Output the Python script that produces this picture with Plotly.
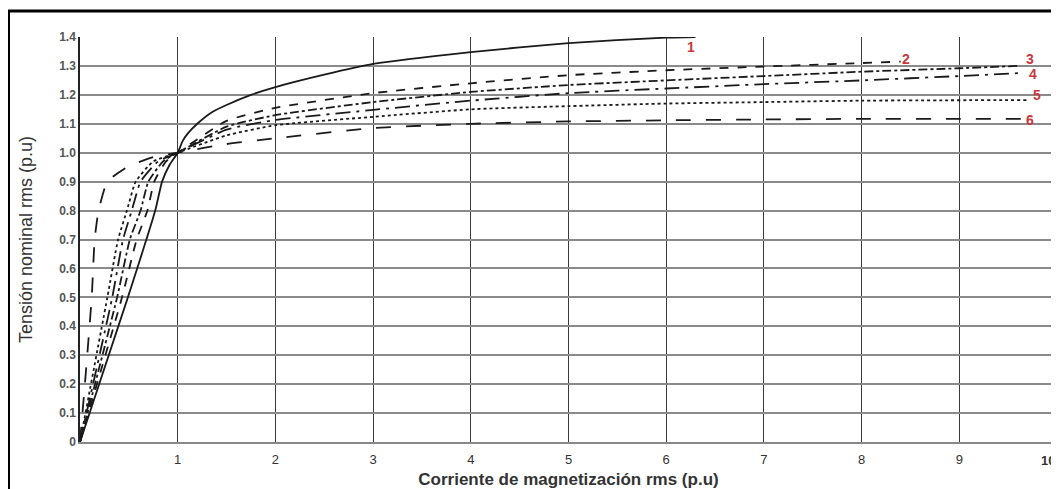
import plotly.graph_objects as go

# Curve data (magnetization current p.u. vs nominal voltage p.u.)
x1 = [0, 0.49, 0.77, 0.84, 0.92, 1.0, 1.05, 1.1, 1.2, 1.35, 1.5, 1.75, 2, 2.5, 3, 4, 5, 6, 6.3]
y1 = [0, 0.5, 0.8, 0.9, 0.96, 1.0, 1.04, 1.065, 1.1, 1.14, 1.165, 1.2, 1.227, 1.27, 1.307, 1.348, 1.379, 1.398, 1.40]

x2 = [0, 0.43, 0.58, 0.69, 0.76, 0.88, 1.0, 1.5, 2, 3, 4, 5, 6, 7, 8, 8.4]
y2 = [0, 0.5, 0.7, 0.8, 0.9, 0.97, 1.0, 1.11, 1.155, 1.206, 1.24, 1.268, 1.285, 1.298, 1.31, 1.315]

x3 = [0, 0.38, 0.51, 0.62, 0.7, 0.85, 1.0, 1.5, 2, 3, 4, 5, 6, 7, 8, 9, 9.6]
y3 = [0, 0.5, 0.7, 0.8, 0.9, 0.97, 1.0, 1.09, 1.13, 1.175, 1.21, 1.234, 1.25, 1.265, 1.28, 1.292, 1.30]

x4 = [0, 0.33, 0.44, 0.53, 0.62, 0.8, 1.0, 1.5, 2, 3, 4, 5, 6, 7, 8, 9, 9.6]
y4 = [0, 0.5, 0.7, 0.8, 0.9, 0.97, 1.0, 1.08, 1.113, 1.148, 1.18, 1.206, 1.222, 1.237, 1.25, 1.265, 1.275]

x5 = [0, 0.28, 0.39, 0.48, 0.57, 0.75, 1.0, 1.5, 2, 3, 4, 5, 6, 7, 8, 9.7]
y5 = [0, 0.5, 0.7, 0.8, 0.9, 0.97, 1.0, 1.06, 1.095, 1.124, 1.15, 1.161, 1.17, 1.175, 1.18, 1.182]

x6 = [0, 0.05, 0.12, 0.15, 0.19, 0.28, 0.48, 0.75, 1.0, 1.5, 2, 3, 4, 5, 6, 7, 8, 9, 9.7]
y6 = [0, 0.2, 0.5, 0.7, 0.8, 0.9, 0.95, 0.985, 1.0, 1.03, 1.05, 1.085, 1.10, 1.108, 1.112, 1.115, 1.117, 1.117, 1.117]

curve_names = ["1", "2", "3", "4", "5", "6"]
curve_dash = ["solid", "dash", "dashdot", "longdashdot", "dot", "longdash"]
label_x = [6.25, 8.45, 9.72, 9.75, 9.8, 9.72]
label_y = [1.365, 1.325, 1.325, 1.272, 1.20, 1.112]

x_ticks = [1, 2, 3, 4, 5, 6, 7, 8, 9]
y_ticks = [0, 0.1, 0.2, 0.3, 0.4, 0.5, 0.6, 0.7, 0.8, 0.9, 1.0, 1.1, 1.2, 1.3, 1.4]
y_ticktext = ["0", "0.1", "0.2", "0.3", "0.4", "0.5", "0.6", "0.7", "0.8", "0.9",
              "1.0", "1.1", "1.2", "1.3", "1.4"]

xs = [x1, x2, x3, x4, x5, x6]
ys = [y1, y2, y3, y4, y5, y6]

fig = go.Figure()
for xv, yv, nm, ds in zip(xs, ys, curve_names, curve_dash):
    fig.add_trace(go.Scatter(x=xv, y=yv, mode="lines", name=nm,
                             line=dict(color="#1a1a1a", width=1.8, dash=ds, shape="spline", smoothing=0.5),
                             showlegend=False))

for nm, lx, ly in zip(curve_names, label_x, label_y):
    fig.add_annotation(x=lx, y=ly, text="<b>" + nm + "</b>", showarrow=False,
                       font=dict(family="Liberation Sans", size=14, color="#c8383c"),
                       xanchor="center", yanchor="middle")

# last x tick label at the right edge
fig.add_annotation(x=10, y=0, yref="y", text="<b>10</b>", showarrow=False, yshift=-18,
                   font=dict(family="Liberation Sans", size=13, color="#333"),
                   xanchor="right", yanchor="middle")

# outer black frame
fig.add_shape(type="rect", xref="paper", yref="paper",
              x0=0.5 / 977 - 72 / 977, x1=1.05, y0=-0.2, y1=(434 - 3) / 405,
              line=dict(color="black", width=3), fillcolor="rgba(0,0,0,0)", layer="below")

fig.update_layout(
    width=1059, height=489,
    margin=dict(l=72, r=10, t=29, b=55, autoexpand=False),
    paper_bgcolor="white", plot_bgcolor="white",
    font=dict(family="Liberation Sans", color="#333"),
    xaxis=dict(range=[0, 10], tickvals=x_ticks, showgrid=True, gridcolor="#3a3a3a", gridwidth=1.2,
               zeroline=False, showline=True, linecolor="#888", linewidth=2,
               tickfont=dict(size=13, color="#333", family="Liberation Sans"),
               tickprefix="<b>", ticksuffix="</b>", ticklabelstandoff=4,
               ticks="", automargin=False,
               title=dict(text="<b>Corriente de magnetización rms (p.u)</b>",
                          font=dict(size=17, color="#333"), standoff=8)),
    yaxis=dict(range=[0, 1.4], tickvals=y_ticks, ticktext=["<b>" + t + "</b>" for t in y_ticktext],
               showgrid=True, gridcolor="#8a8a8a", gridwidth=1.8, zeroline=False,
               showline=True, linecolor="#222", linewidth=1.5,
               tickfont=dict(size=12, color="#555", family="Liberation Sans"),
               ticks="", automargin=False,
               title=dict(text="Tensión nominal rms (p.u)", font=dict(size=18, color="#333"), standoff=22)),
)

fig.write_html("out.html")
